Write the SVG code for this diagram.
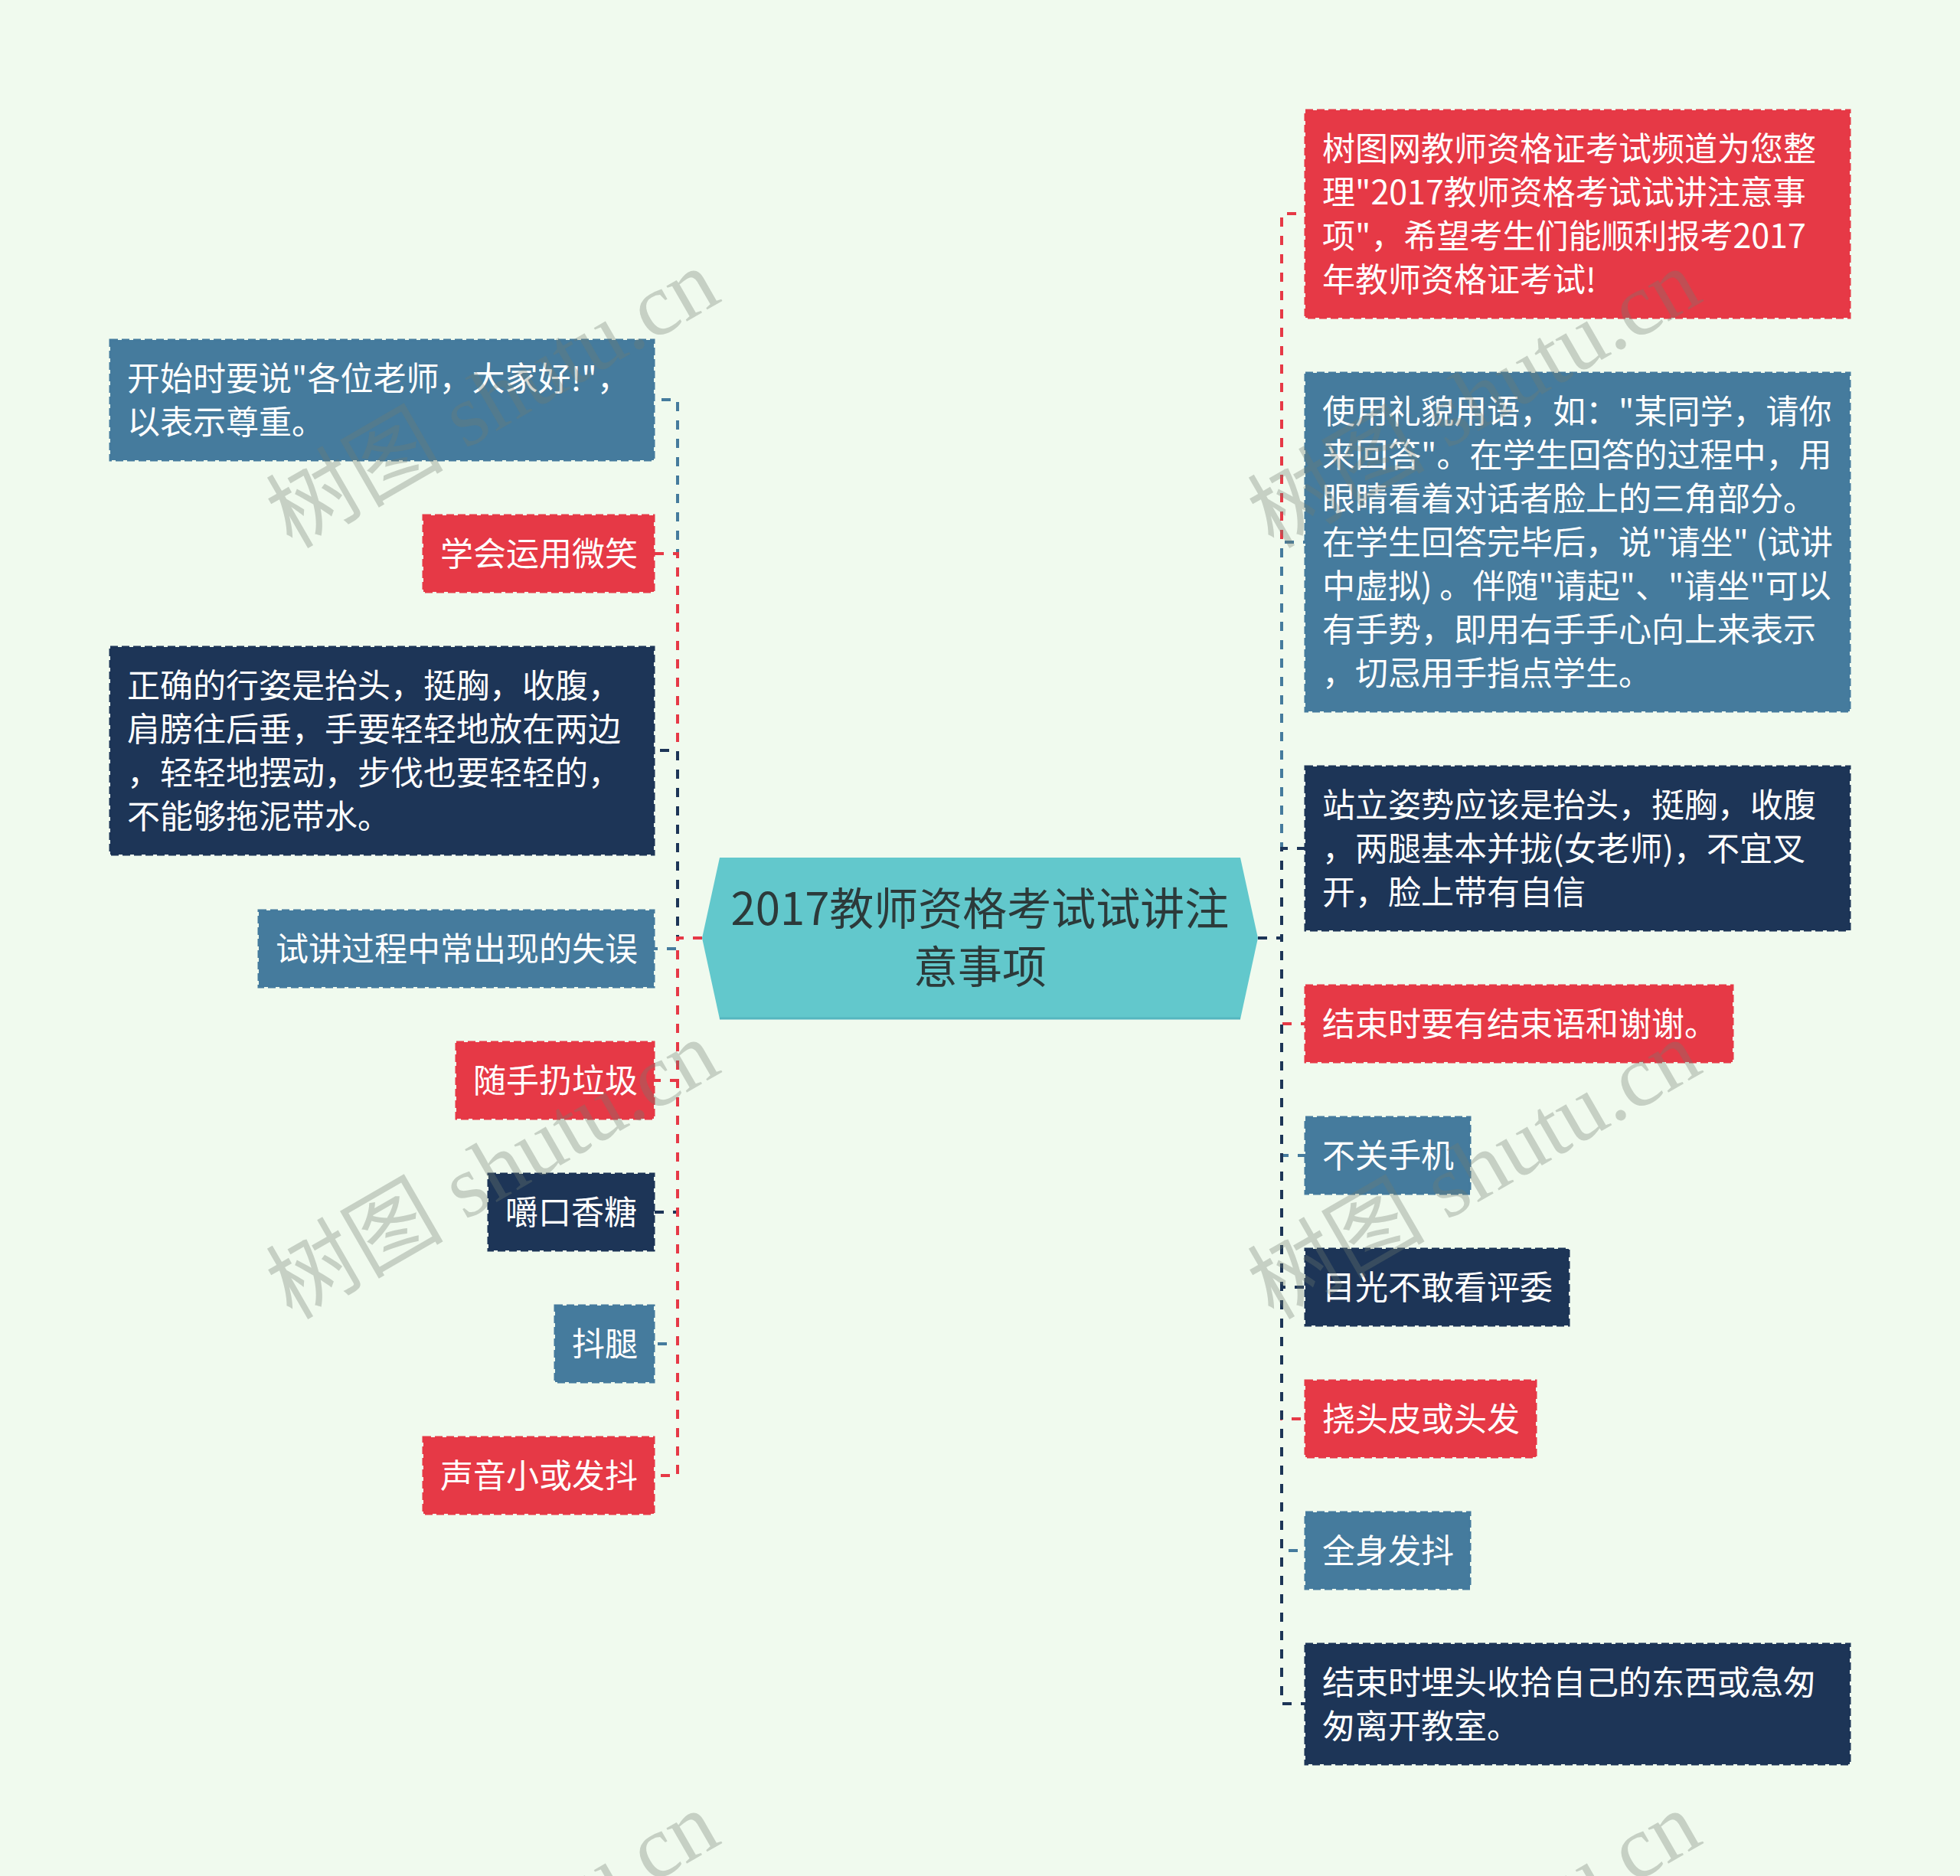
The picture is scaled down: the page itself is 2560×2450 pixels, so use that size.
<svg xmlns="http://www.w3.org/2000/svg" width="2560" height="2450" viewBox="0 0 2560 2450">
<style>
.bg{fill:#f0faee}
.n rect{stroke-width:3;stroke-dasharray:10 5}
.red rect{fill:#e63946;stroke:#e63946}
.blue rect{fill:#457b9d;stroke:#457b9d}
.navy rect{fill:#1d3557;stroke:#1d3557}
.n text{font-family:"Noto Sans CJK SC","Noto Sans",sans-serif;font-size:43px;fill:#ffffff}
.c{fill:none;stroke-width:4;stroke-dasharray:12 12}
.cr{stroke:#e63946}.cb{stroke:#457b9d}.cn{stroke:#1d3557}
.title{font-family:"Noto Sans CJK SC","Noto Sans",sans-serif;font-size:58px;fill:#2c3a3a;text-anchor:middle}
.wm{font-family:"Liberation Serif","Noto Sans CJK SC",serif;font-size:116px;fill:#6f7d70;fill-opacity:0.33;text-anchor:end}
</style>
<rect class="bg" x="0" y="0" width="2560" height="2450"/>
<g id="connectors">
<path class="c cb" d="M917,1225H885V522H854"/>
<path class="c cr" d="M917,1225H885V723H854"/>
<path class="c cn" d="M917,1225H885V980H854"/>
<path class="c cb" d="M917,1225H885V1239H854"/>
<path class="c cr" d="M917,1225H885V1411H854"/>
<path class="c cn" d="M917,1225H885V1583H854"/>
<path class="c cb" d="M917,1225H885V1755H854"/>
<path class="c cr" d="M917,1225H885V1927H854"/>
<path class="c cr" d="M1643,1225H1674V279H1705"/>
<path class="c cb" d="M1643,1225H1674V708H1705"/>
<path class="c cn" d="M1643,1225H1674V1108H1705"/>
<path class="c cr" d="M1643,1225H1674V1337H1705"/>
<path class="c cb" d="M1643,1225H1674V1509H1705"/>
<path class="c cn" d="M1643,1225H1674V1681H1705"/>
<path class="c cr" d="M1643,1225H1674V1853H1705"/>
<path class="c cb" d="M1643,1225H1674V2025H1705"/>
<path class="c cn" d="M1643,1225H1674V2225H1705"/>
</g>
<g id="center">
<polygon points="940,1120 1620,1120 1643,1225 1620,1331 940,1331 917,1225" fill="#62c8cc"/>
<line x1="940" y1="1330" x2="1620" y2="1330" stroke="#55b6bf" stroke-width="3"/>
<text class="title" x="1280" y="1208">2017教师资格考试试讲注</text>
<text class="title" x="1280" y="1284">意事项</text>
</g>
<g id="L1" class="n blue"><rect x="144" y="444" width="710" height="157"/><text x="166" y="510">开始时要说"各位老师，大家好!"，</text><text x="166" y="567">以表示尊重。</text></g>
<g id="L2" class="n red"><rect x="553" y="673" width="301" height="100"/><text x="575" y="739">学会运用微笑</text></g>
<g id="L3" class="n navy"><rect x="144" y="845" width="710" height="271"/><text x="166" y="911">正确的行姿是抬头，挺胸，收腹，</text><text x="166" y="968">肩膀往后垂，手要轻轻地放在两边</text><text x="166" y="1025">，轻轻地摆动，步伐也要轻轻的，</text><text x="166" y="1082">不能够拖泥带水。</text></g>
<g id="L4" class="n blue"><rect x="338" y="1189" width="516" height="100"/><text x="360" y="1255">试讲过程中常出现的失误</text></g>
<g id="L5" class="n red"><rect x="596" y="1361" width="258" height="100"/><text x="618" y="1427">随手扔垃圾</text></g>
<g id="L6" class="n navy"><rect x="638" y="1533" width="216" height="100"/><text x="660" y="1599">嚼口香糖</text></g>
<g id="L7" class="n blue"><rect x="725" y="1705" width="129" height="100"/><text x="747" y="1771">抖腿</text></g>
<g id="L8" class="n red"><rect x="553" y="1877" width="301" height="100"/><text x="575" y="1943">声音小或发抖</text></g>
<g id="R1" class="n red"><rect x="1705" y="144" width="711" height="271"/><text x="1727" y="210">树图网教师资格证考试频道为您整</text><text x="1727" y="267">理"2017教师资格考试试讲注意事</text><text x="1727" y="324">项"，希望考生们能顺利报考2017</text><text x="1727" y="381">年教师资格证考试!</text></g>
<g id="R2" class="n blue"><rect x="1705" y="487" width="711" height="442"/><text x="1727" y="553">使用礼貌用语，如："某同学，请你</text><text x="1727" y="610">来回答"。在学生回答的过程中，用</text><text x="1727" y="667">眼睛看着对话者脸上的三角部分。</text><text x="1727" y="724">在学生回答完毕后，说"请坐" (试讲</text><text x="1727" y="781">中虚拟) 。伴随"请起"、"请坐"可以</text><text x="1727" y="838">有手势，即用右手手心向上来表示</text><text x="1727" y="895">，切忌用手指点学生。</text></g>
<g id="R3" class="n navy"><rect x="1705" y="1001" width="711" height="214"/><text x="1727" y="1067">站立姿势应该是抬头，挺胸，收腹</text><text x="1727" y="1124">，两腿基本并拢(女老师)，不宜叉</text><text x="1727" y="1181">开，脸上带有自信</text></g>
<g id="R4" class="n red"><rect x="1705" y="1287" width="558" height="100"/><text x="1727" y="1353">结束时要有结束语和谢谢。</text></g>
<g id="R5" class="n blue"><rect x="1705" y="1459" width="215" height="100"/><text x="1727" y="1525">不关手机</text></g>
<g id="R6" class="n navy"><rect x="1705" y="1631" width="344" height="100"/><text x="1727" y="1697">目光不敢看评委</text></g>
<g id="R7" class="n red"><rect x="1705" y="1803" width="301" height="100"/><text x="1727" y="1869">挠头皮或头发</text></g>
<g id="R8" class="n blue"><rect x="1705" y="1975" width="215" height="100"/><text x="1727" y="2041">全身发抖</text></g>
<g id="R9" class="n navy"><rect x="1705" y="2147" width="711" height="157"/><text x="1727" y="2213">结束时埋头收拾自己的东西或急匆</text><text x="1727" y="2270">匆离开教室。</text></g>
<g id="watermarks">
<text class="wm" transform="translate(945,392) rotate(-30)">树图 shutu.cn</text>
<text class="wm" transform="translate(2227,392) rotate(-30)">树图 shutu.cn</text>
<text class="wm" transform="translate(945,1399) rotate(-30)">树图 shutu.cn</text>
<text class="wm" transform="translate(2227,1399) rotate(-30)">树图 shutu.cn</text>
<text class="wm" transform="translate(945,2406) rotate(-30)">树图 shutu.cn</text>
<text class="wm" transform="translate(2227,2406) rotate(-30)">树图 shutu.cn</text>
</g>
</svg>
